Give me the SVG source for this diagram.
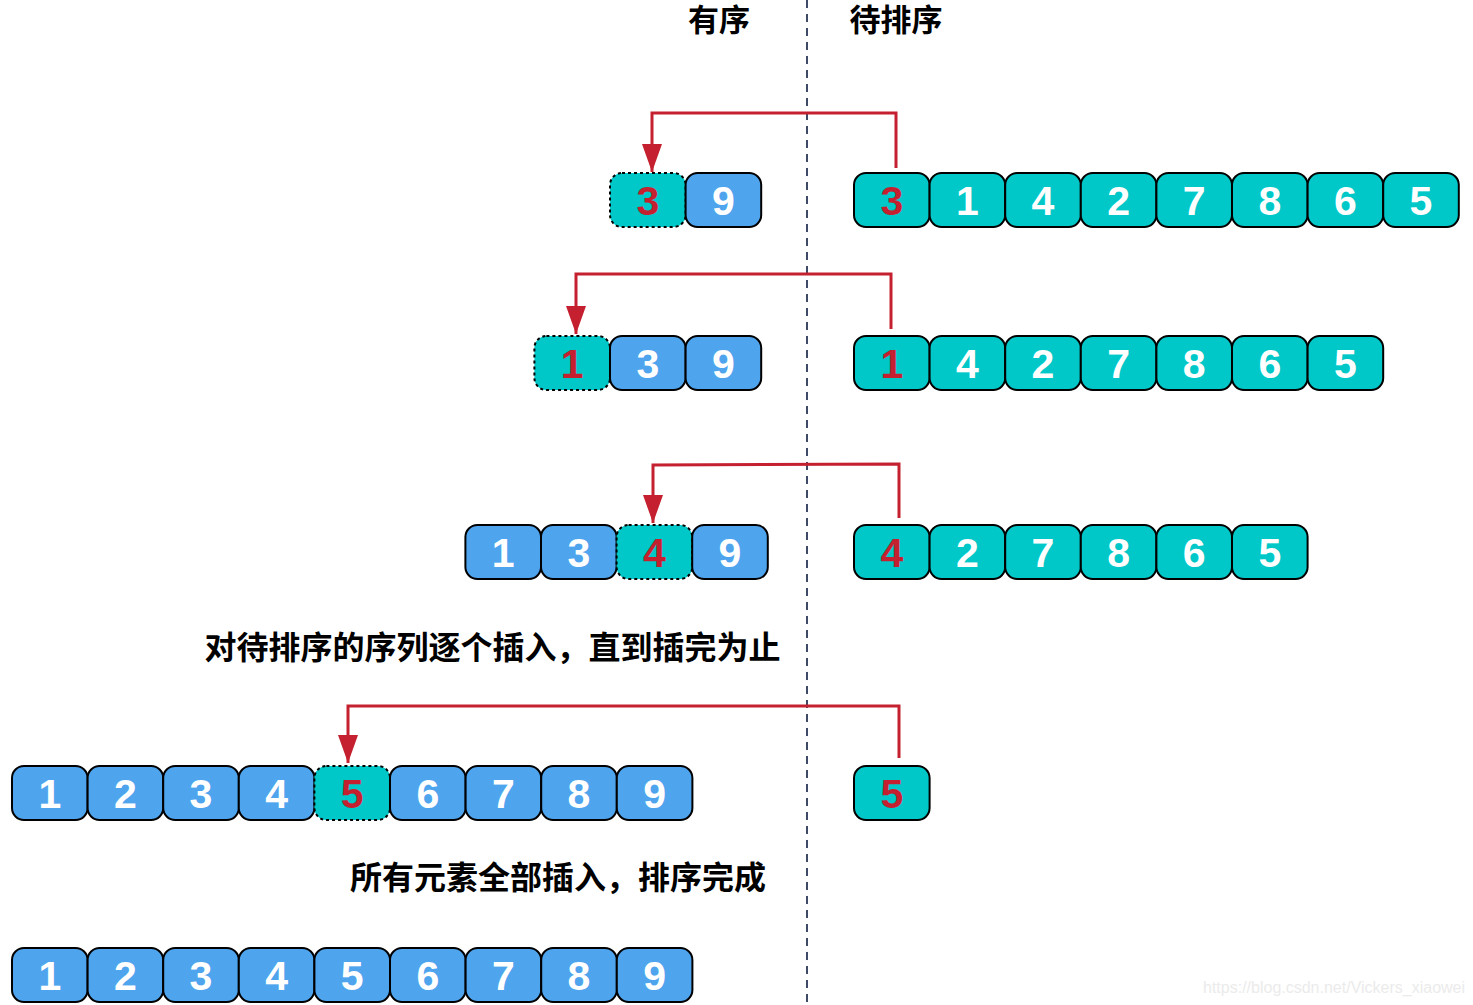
<svg xmlns="http://www.w3.org/2000/svg" width="1473" height="1005" viewBox="0 0 1473 1005">
<defs>
<style>
.t{fill:#00C8C8;stroke:#000;stroke-width:2}
.b{fill:#4FA4EE;stroke:#000;stroke-width:2}
.d{fill:#00C8C8;stroke:#000;stroke-width:2;stroke-dasharray:3 3}
.n{font-family:"Liberation Sans",Arial,sans-serif;font-weight:bold;font-size:41px;fill:#fff;text-anchor:middle}
.r{fill:#C5202F}
.h{font-family:"Noto Sans CJK SC","Liberation Sans",sans-serif;font-weight:bold;font-size:31px;fill:#000}
.l{font-size:32px}
.c{fill:none;stroke:#C5202F;stroke-width:3;stroke-linejoin:miter}
</style>
<marker id="ah2" viewBox="0 0 28 20" refX="28" refY="10" markerWidth="28" markerHeight="20" markerUnits="userSpaceOnUse" orient="auto">
<path d="M0,0 L28,10 L0,20 z" fill="#C5202F"/>
</marker>
</defs>
<rect width="1473" height="1005" fill="#fff"/>
<line x1="807" y1="0" x2="807" y2="1005" stroke="#3E4A66" stroke-width="2" stroke-dasharray="8 6"/>
<g id="headers">
<text class="h" x="719" y="31" text-anchor="middle">有序</text>
<text class="h" x="896" y="31" text-anchor="middle">待排序</text>
</g>
<g id="connectors">
<path class="c" marker-end="url(#ah2)" d="M896,168 L896,113 L652,113 L652,172"/>
<path class="c" marker-end="url(#ah2)" d="M891,329 L891,274 L576,274 L576,334"/>
<path class="c" marker-end="url(#ah2)" d="M899,518 L899,464 L653,465 L653,523"/>
<path class="c" marker-end="url(#ah2)" d="M899,758 L899,706 L348,706 L348,763"/>
</g>
<!-- Row 1 -->
<g id="r1-sorted">
<rect class="d" x="610" y="173" width="75.6" height="54" rx="12"/><text class="n r" x="647.8" y="215">3</text>
<rect class="b" x="685.6" y="173" width="75.6" height="54" rx="12"/><text class="n" x="723.4" y="215">9</text>
</g>
<g id="r1-unsorted">
<rect class="t" x="854" y="173" width="75.6" height="54" rx="12"/><text class="n r" x="891.8" y="215">3</text>
<rect class="t" x="929.6" y="173" width="75.6" height="54" rx="12"/><text class="n" x="967.4" y="215">1</text>
<rect class="t" x="1005.2" y="173" width="75.6" height="54" rx="12"/><text class="n" x="1043" y="215">4</text>
<rect class="t" x="1080.8" y="173" width="75.6" height="54" rx="12"/><text class="n" x="1118.6" y="215">2</text>
<rect class="t" x="1156.4" y="173" width="75.6" height="54" rx="12"/><text class="n" x="1194.2" y="215">7</text>
<rect class="t" x="1232" y="173" width="75.6" height="54" rx="12"/><text class="n" x="1269.8" y="215">8</text>
<rect class="t" x="1307.6" y="173" width="75.6" height="54" rx="12"/><text class="n" x="1345.4" y="215">6</text>
<rect class="t" x="1383.2" y="173" width="75.6" height="54" rx="12"/><text class="n" x="1421" y="215">5</text>
</g>
<!-- Row 2 -->
<g id="r2-sorted">
<rect class="d" x="534.4" y="336" width="75.6" height="54" rx="12"/><text class="n r" x="572.2" y="378">1</text>
<rect class="b" x="610" y="336" width="75.6" height="54" rx="12"/><text class="n" x="647.8" y="378">3</text>
<rect class="b" x="685.6" y="336" width="75.6" height="54" rx="12"/><text class="n" x="723.4" y="378">9</text>
</g>
<g id="r2-unsorted">
<rect class="t" x="854" y="336" width="75.6" height="54" rx="12"/><text class="n r" x="891.8" y="378">1</text>
<rect class="t" x="929.6" y="336" width="75.6" height="54" rx="12"/><text class="n" x="967.4" y="378">4</text>
<rect class="t" x="1005.2" y="336" width="75.6" height="54" rx="12"/><text class="n" x="1043" y="378">2</text>
<rect class="t" x="1080.8" y="336" width="75.6" height="54" rx="12"/><text class="n" x="1118.6" y="378">7</text>
<rect class="t" x="1156.4" y="336" width="75.6" height="54" rx="12"/><text class="n" x="1194.2" y="378">8</text>
<rect class="t" x="1232" y="336" width="75.6" height="54" rx="12"/><text class="n" x="1269.8" y="378">6</text>
<rect class="t" x="1307.6" y="336" width="75.6" height="54" rx="12"/><text class="n" x="1345.4" y="378">5</text>
</g>
<!-- Row 3 -->
<g id="r3-sorted">
<rect class="b" x="465.4" y="525" width="75.6" height="54" rx="12"/><text class="n" x="503.2" y="567">1</text>
<rect class="b" x="541" y="525" width="75.6" height="54" rx="12"/><text class="n" x="578.8" y="567">3</text>
<rect class="d" x="616.6" y="525" width="75.6" height="54" rx="12"/><text class="n r" x="654.4" y="567">4</text>
<rect class="b" x="692.2" y="525" width="75.6" height="54" rx="12"/><text class="n" x="730" y="567">9</text>
</g>
<g id="r3-unsorted">
<rect class="t" x="854" y="525" width="75.6" height="54" rx="12"/><text class="n r" x="891.8" y="567">4</text>
<rect class="t" x="929.6" y="525" width="75.6" height="54" rx="12"/><text class="n" x="967.4" y="567">2</text>
<rect class="t" x="1005.2" y="525" width="75.6" height="54" rx="12"/><text class="n" x="1043" y="567">7</text>
<rect class="t" x="1080.8" y="525" width="75.6" height="54" rx="12"/><text class="n" x="1118.6" y="567">8</text>
<rect class="t" x="1156.4" y="525" width="75.6" height="54" rx="12"/><text class="n" x="1194.2" y="567">6</text>
<rect class="t" x="1232" y="525" width="75.6" height="54" rx="12"/><text class="n" x="1269.8" y="567">5</text>
</g>
<g id="label1">
<text class="h l" x="492.5" y="659" text-anchor="middle">对待排序的序列逐个插入，直到插完为止</text>
</g>
<!-- Row 4 -->
<g id="r4-sorted">
<rect class="b" x="12" y="766" width="75.6" height="54" rx="12"/><text class="n" x="49.8" y="808">1</text>
<rect class="b" x="87.6" y="766" width="75.6" height="54" rx="12"/><text class="n" x="125.4" y="808">2</text>
<rect class="b" x="163.2" y="766" width="75.6" height="54" rx="12"/><text class="n" x="201" y="808">3</text>
<rect class="b" x="238.8" y="766" width="75.6" height="54" rx="12"/><text class="n" x="276.6" y="808">4</text>
<rect class="d" x="314.4" y="766" width="75.6" height="54" rx="12"/><text class="n r" x="352.2" y="808">5</text>
<rect class="b" x="390" y="766" width="75.6" height="54" rx="12"/><text class="n" x="427.8" y="808">6</text>
<rect class="b" x="465.6" y="766" width="75.6" height="54" rx="12"/><text class="n" x="503.4" y="808">7</text>
<rect class="b" x="541.2" y="766" width="75.6" height="54" rx="12"/><text class="n" x="579" y="808">8</text>
<rect class="b" x="616.8" y="766" width="75.6" height="54" rx="12"/><text class="n" x="654.6" y="808">9</text>
</g>
<g id="r4-unsorted">
<rect class="t" x="854" y="766" width="75.6" height="54" rx="12"/><text class="n r" x="891.8" y="808">5</text>
</g>
<g id="label2">
<text class="h l" x="558" y="889" text-anchor="middle">所有元素全部插入，排序完成</text>
</g>
<!-- Row 5 -->
<g id="r5-sorted">
<rect class="b" x="12" y="948" width="75.6" height="54" rx="12"/><text class="n" x="49.8" y="990">1</text>
<rect class="b" x="87.6" y="948" width="75.6" height="54" rx="12"/><text class="n" x="125.4" y="990">2</text>
<rect class="b" x="163.2" y="948" width="75.6" height="54" rx="12"/><text class="n" x="201" y="990">3</text>
<rect class="b" x="238.8" y="948" width="75.6" height="54" rx="12"/><text class="n" x="276.6" y="990">4</text>
<rect class="b" x="314.4" y="948" width="75.6" height="54" rx="12"/><text class="n" x="352.2" y="990">5</text>
<rect class="b" x="390" y="948" width="75.6" height="54" rx="12"/><text class="n" x="427.8" y="990">6</text>
<rect class="b" x="465.6" y="948" width="75.6" height="54" rx="12"/><text class="n" x="503.4" y="990">7</text>
<rect class="b" x="541.2" y="948" width="75.6" height="54" rx="12"/><text class="n" x="579" y="990">8</text>
<rect class="b" x="616.8" y="948" width="75.6" height="54" rx="12"/><text class="n" x="654.6" y="990">9</text>
</g>
<text x="1203" y="993" font-family="'Liberation Sans',Arial,sans-serif" font-size="16" fill="#EBEBEB">https://blog.csdn.net/Vickers_xiaowei</text>
</svg>
